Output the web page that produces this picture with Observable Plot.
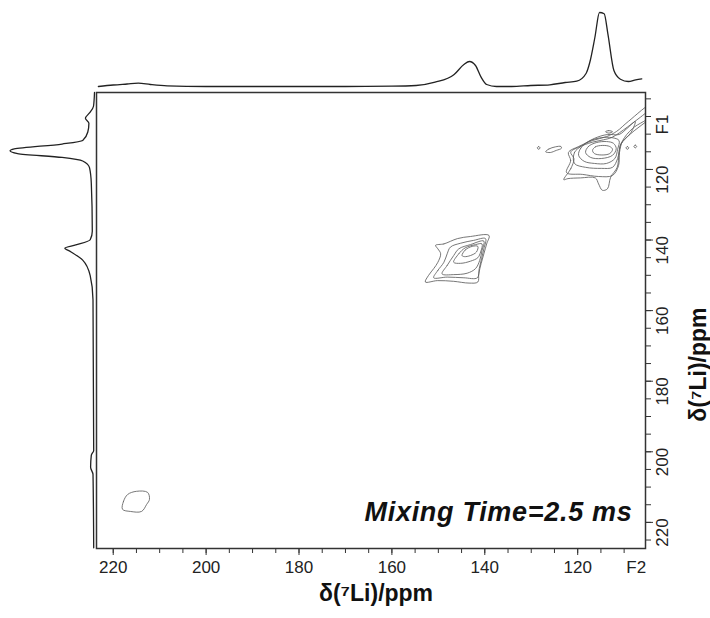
<!DOCTYPE html>
<html><head><meta charset="utf-8">
<script src="https://cdn.jsdelivr.net/npm/d3@7"></script>
<script src="https://cdn.jsdelivr.net/npm/@observablehq/plot@0.6"></script>
<style>
body{margin:0;background:#fff;}
#wrap{position:relative;width:710px;height:618px;}
#wrap svg{position:absolute;left:0;top:0;background:transparent;}
</style></head><body><div id="wrap"></div>
<script>
// ---- axes (ppm) ----
const xDomain = [223.6, 105.4];   // F2, left -> right
const yDomain = [98.2, 227.4];    // F1, top -> bottom
const majorTicks = [120, 140, 160, 180, 200, 220];
const xMinorTicks = [110,115,120,125,130,135,140,145,150,155,160,165,170,175,180,185,190,195,200,205,210,215,220];
const yMinorTicks = [100,105,110,115,120,125,130,135,140,145,150,155,160,165,170,175,180,185,190,195,200,205,210,215,220,225];
const f2LabelAt = 107.4;
const f1LabelAt = 105.6;
const axisTitle = "δ(⁷Li)/ppm";
const note = "Mixing Time=2.5 ms";

// ---- F2 projection (top) ----
const topF2 = [223.2,220,217,214.6,212,208.4,200,190,180,170,160,154.8,150.7,146.6,144.5,143.3,142.0,140.8,139.6,137.5,134.2,130.1,126.0,122.7,120.2,118.2,117.4,116.3,115.3,114.3,113.5,112.2,110.8,109.1,107.5,106.2];
const topI  = [0,1.5,2.5,3.3,2,0.7,0,0,0,0,0.3,1,4.3,12,22,25,21,9.3,2,0,0,1,1.7,4,5.3,13,24,49,74,72.7,52.7,16,7.3,5,6.7,7.7];

// ---- F1 projection (left) ----
const leftF1 = [98.2,102.1,104.0,105.5,106.9,109.4,111.8,112.8,114.2,114.7,115.5,116.6,117.6,119.5,123.9,137.5,139.9,141.4,142.3,143.3,145.7,150.1,156.9,199.6,201.0,204.4,206.4,227.2];
const leftI  = [0,1,5,9.1,5.6,6.7,11.8,32.4,80.3,84.4,76.9,32.4,11.8,5,3.2,2.2,4.3,18.7,29.6,23.8,11.8,4.3,1.5,0.8,3.2,3.9,1.5,0.8];

// ---- contours, [F2, F1] ppm ----
const peak143Contours = [
  [[150.6,141.5],[148.8,141.1],[145.9,139.6],[143.1,139.0],[139.1,138.7],[139.6,141.1],[140.2,143.9],[140.8,146.7],[141.3,149.6],[141.5,151.9],[143.4,152.2],[146.7,151.7],[150.2,151.5],[152.8,151.9],[152.1,150.0],[151.0,148.1],[150.1,146.3],[149.5,143.9],[150.1,142.5]],
  [[151.0,150.7],[150.1,148.6],[148.8,146.3],[148.1,143.9],[147.4,142.0],[145.2,140.9],[142.4,140.1],[139.85,139.6],[140.2,142.5],[140.7,145.3],[141.2,148.1],[141.6,150.7],[144.5,150.7],[148.1,150.5]],
  [[149.2,149.6],[148.1,147.2],[146.7,144.4],[145.6,142.5],[143.1,141.3],[140.2,140.3],[140.6,143.0],[141.1,145.8],[142.0,148.1],[143.8,149.4],[146.7,149.8]],
  [[146.7,146.3],[145.6,143.9],[144.2,142.2],[142.0,141.3],[140.6,141.1],[140.9,143.4],[141.5,145.0],[143.1,146.0],[145.2,146.6]],
  [[144.9,144.4],[144.2,142.8],[142.7,141.8],[141.5,141.8],[141.8,143.4],[143.1,144.4],[144.4,144.7]]
];
const peak115Contours = [
  [[116.8,114.6],[116.2,113.6],[114.7,113.2],[113.1,113.5],[112.5,114.3],[113.1,115.5],[114.8,115.9],[116.4,115.5]],
  [[118.3,115.2],[117.7,113.5],[116.0,112.4],[113.8,112.1],[112.3,112.6],[111.7,114.1],[112.5,116.0],[114.9,116.9],[117.2,116.6]],
  [[119.8,116.0],[119.4,114.1],[117.7,112.1],[114.9,111.0],[112.6,111.0],[111.1,111.8],[111.4,114.3],[112.0,116.9],[113.8,118.3],[116.4,118.3],[118.6,117.7]],
  [[120.7,118.3],[120.7,115.2],[119.0,113.2],[116.4,111.2],[113.6,110.1],[111.1,110.1],[109.4,108.4],[107.6,106.4],[108.5,109.5],[110.7,112.9],[111.4,116.9],[112.5,119.4],[114.9,119.7],[118.3,119.4]],
  [[122.4,120.9],[121.5,117.5],[122.0,115.2],[119.8,113.5],[116.8,111.8],[113.8,110.7],[111.6,109.2],[109.1,106.4],[104.0,101.5],[104.0,104.5],[108.2,108.4],[110.3,111.8],[111.0,115.2],[111.2,118.9],[112.5,121.7],[115.5,122.0],[119.0,121.4]],
  [[123.0,122.9],[121.5,119.8],[120.8,117.0],[121.5,115.1],[119.8,113.7],[116.9,112.3],[114.4,111.6],[112.6,110.9],[109.3,108.0],[106.5,105.2],[103.2,102.2],[103.2,104.4],[105.4,106.6],[108.6,109.9],[110.7,112.7],[111.1,115.6],[111.5,119.4],[112.9,122.2],[113.6,125.5],[114.7,125.9],[115.5,124.1],[116.2,122.4],[119.4,122.4],[122.1,122.6]]
];
const peak115Islands = [
  [[128.7,113.9],[128.4,113.5],[128.1,113.9],[128.4,114.3]],
  [[126.9,115.0],[126.2,114.2],[124.8,113.6],[123.6,113.5],[123.5,114.0],[124.6,114.6],[125.9,115.2]],
  [[114.0,109.3],[113.3,109.0],[112.5,109.3],[113.3,109.7]],
  [[109.6,113.9],[109.3,113.5],[109.0,113.9],[109.3,114.3]],
  [[107.9,113.5],[107.6,113.1],[107.3,113.5],[107.6,113.9]]
];
const peak217Contours = [
  [[218.0,216.3],[217.8,214.1],[216.9,212.1],[215.0,211.2],[212.6,211.5],[212.2,213.5],[212.8,214.9],[213.9,216.9],[216.3,216.9]]
];

// ---- build tables ----
const contourRows = [...peak143Contours, ...peak115Contours, ...peak115Islands, ...peak217Contours]
  .flatMap((poly, k) => poly.map(([f2, f1]) => ({f2, f1, k})));
const topRows = topF2.map((f2, i) => ({f2, v: topI[i]}));
const leftRows = leftF1.map((f1, i) => ({f1, v: leftI[i]}));

const FONT = "Liberation Sans, Arial, Helvetica, sans-serif";
const W = 710, H = 618, ML = 96, MR = 65, MT = 92, MB = 70;

const mainChart = Plot.plot({
  width: W, height: H,
  marginLeft: ML, marginRight: MR, marginTop: MT, marginBottom: MB,
  style: {fontFamily: FONT, fontSize: "16px", color: "#222", background: "#fff"},
  x: {domain: xDomain, axis: null},
  y: {domain: yDomain, reverse: true, axis: null},
  marks: [
    Plot.line(contourRows, {x: "f2", y: "f1", z: "k", curve: "catmull-rom-closed", stroke: "#5e5e5e", strokeWidth: 0.85, clip: true}),
    Plot.frame({stroke: "#333", strokeWidth: 1.5}),
    Plot.axisX({ticks: xMinorTicks, tickSize: 5, tickFormat: () => "", label: null, stroke: "#333"}),
    Plot.axisX({ticks: majorTicks, tickSize: 7, tickPadding: 5, tickFormat: d => String(d), label: null, fontSize: 17, stroke: "#333", fill: "#222"}),
    Plot.axisX({ticks: [f2LabelAt], tickSize: 0, tickPadding: 12, tickFormat: () => "F2", label: null, fontSize: 17, fill: "#222"}),
    Plot.axisY({anchor: "right", ticks: yMinorTicks, tickSize: 5, tickFormat: () => "", label: null, stroke: "#333"}),
    Plot.axisY({anchor: "right", ticks: majorTicks, tickSize: 7, tickFormat: () => "", label: null, stroke: "#333"}),
    Plot.text(majorTicks, {y: d => d, frameAnchor: "right", dx: 17, dy: -4, rotate: -90, text: d => String(d), fontSize: 17, fill: "#222"}),
    Plot.text(["F1"], {y: [f1LabelAt], frameAnchor: "right", dx: 17, dy: -4, rotate: -90, text: d => d, fontSize: 17, fill: "#222"}),
    Plot.text([axisTitle], {frameAnchor: "bottom", dx: 5, dy: 52, text: d => d, fontSize: 23, fontWeight: "bold", fill: "#111"}),
    Plot.text([axisTitle], {frameAnchor: "right", dx: 53, dy: -13, rotate: -90, text: d => d, fontSize: 23, fontWeight: "bold", fill: "#111"}),
    Plot.text([note], {frameAnchor: "bottom-right", dx: -13, dy: -28, textAnchor: "end", text: d => d, fontSize: 27, fontWeight: "bold", fontStyle: "italic", fill: "#111"})
  ]
});
d3.select(mainChart).selectAll("text").filter(function () { return this.textContent === note; })
  .attr("letter-spacing", "0.7px");

const topChart = Plot.plot({
  width: W, height: MT,
  marginLeft: ML, marginRight: MR, marginTop: 11, marginBottom: 6,
  style: {background: "transparent"},
  x: {domain: xDomain, axis: null},
  y: {domain: [0, 75], axis: null},
  marks: [Plot.line(topRows, {x: "f2", y: "v", curve: "monotone-x", stroke: "#222", strokeWidth: 1.3})]
});

const leftChart = Plot.plot({
  width: ML, height: H,
  marginLeft: 9, marginRight: 2, marginTop: MT, marginBottom: MB,
  style: {background: "transparent"},
  x: {domain: [0, 85], reverse: true, axis: null},
  y: {domain: yDomain, reverse: true, axis: null},
  marks: [Plot.line(leftRows, {x: "v", y: "f1", curve: "monotone-y", stroke: "#222", strokeWidth: 1.3})]
});

document.getElementById("wrap").append(mainChart, topChart, leftChart);
</script></body></html>
